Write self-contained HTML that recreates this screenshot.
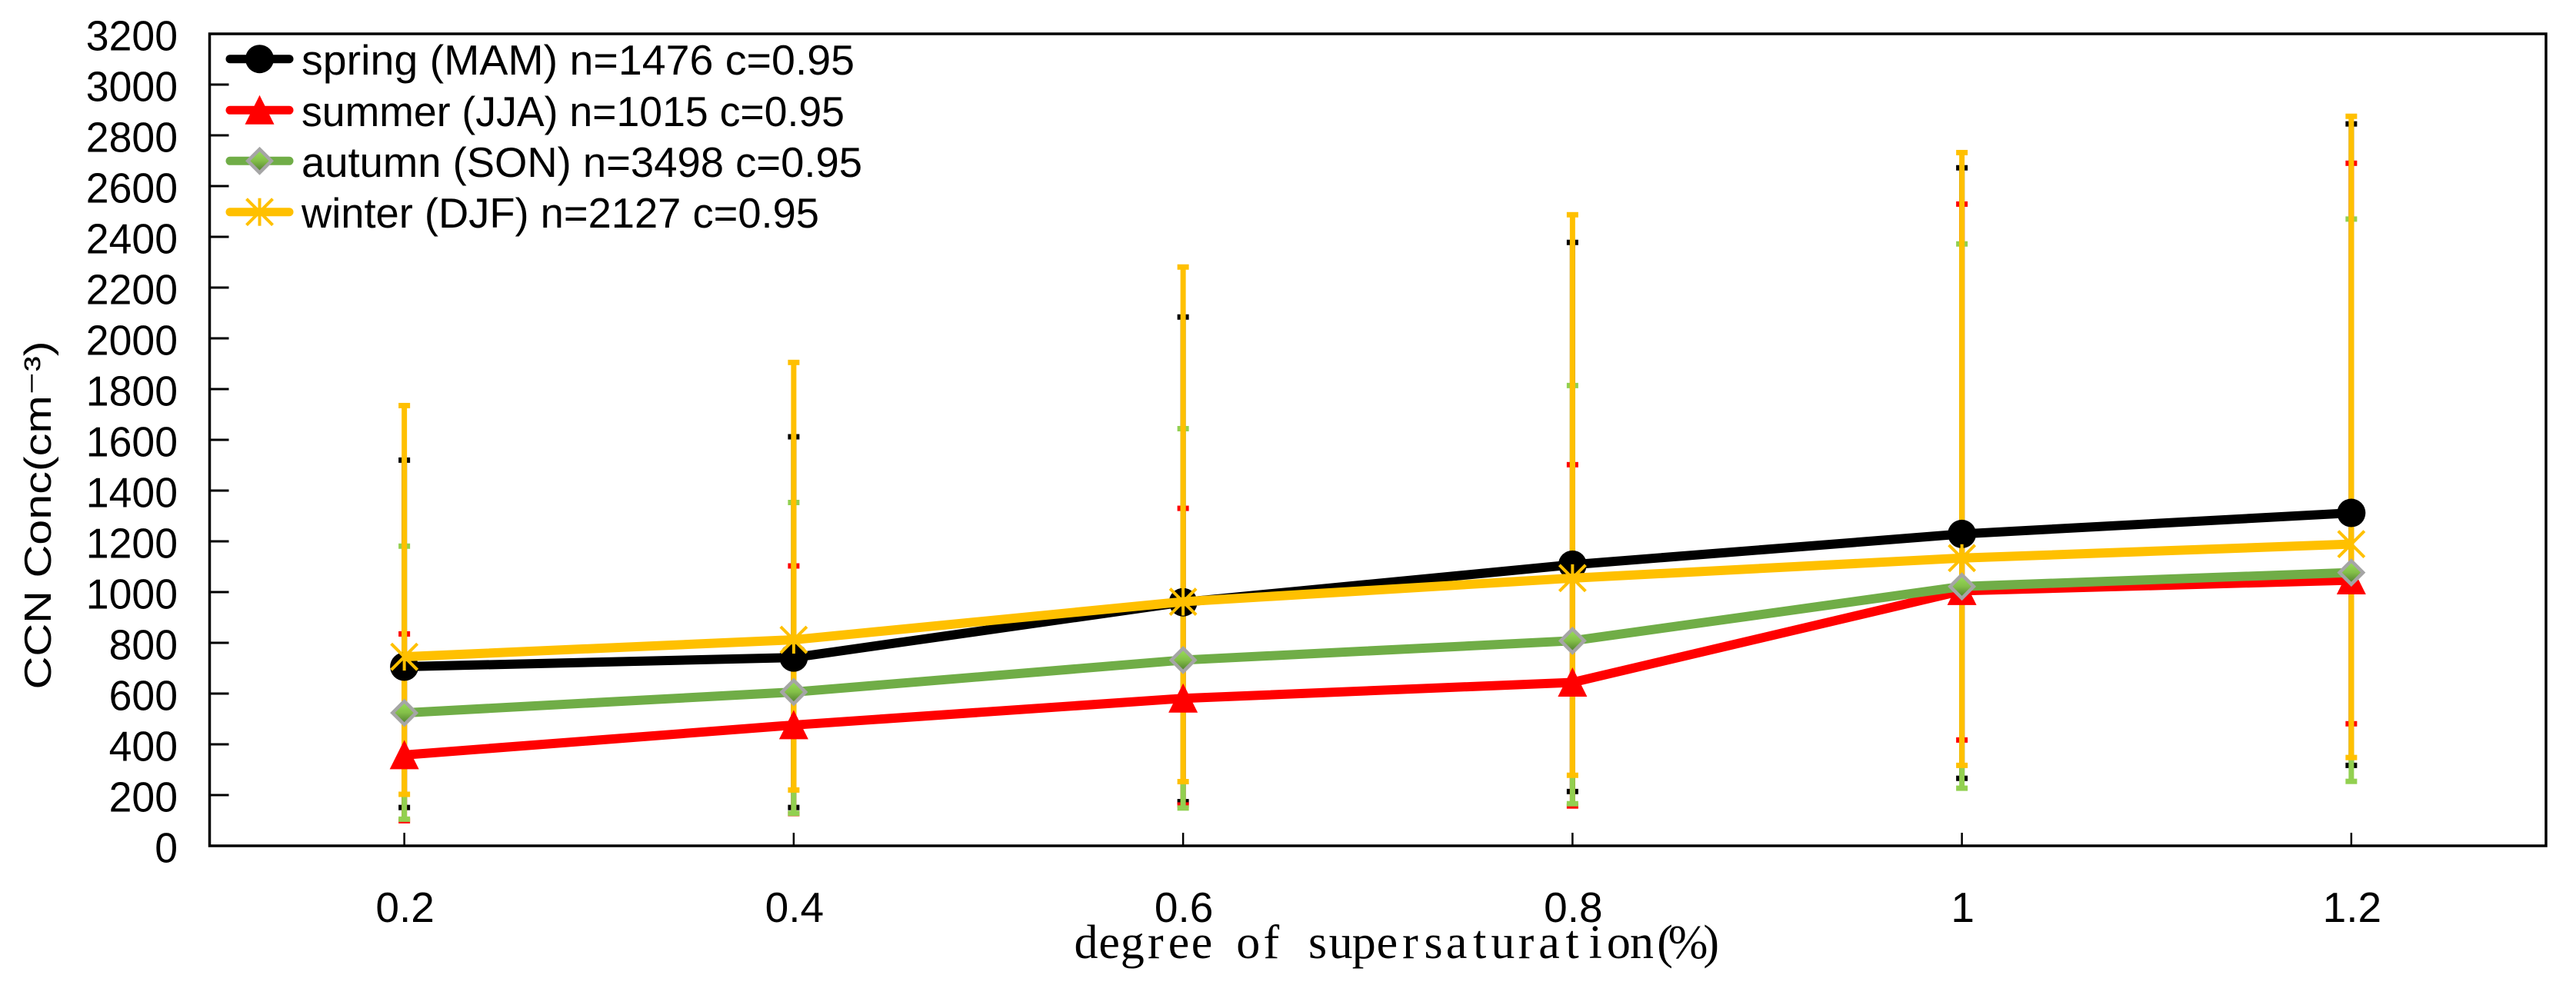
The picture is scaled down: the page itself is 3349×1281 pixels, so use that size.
<!DOCTYPE html>
<html lang="en">
<head>
<meta charset="utf-8">
<title>CCN concentration by degree of supersaturation</title>
<style>
html,body{margin:0;padding:0;background:#fff;width:3349px;height:1281px;overflow:hidden}
svg{display:block}
text{fill:#000;font-family:"Liberation Sans",sans-serif}
.tick-label{font-size:55px}
</style>
</head>
<body>
<svg id="chart" xmlns="http://www.w3.org/2000/svg" width="3349" height="1281" viewBox="0 0 3349 1281">
  <defs>
    <linearGradient id="diamondFill" x1="0" y1="0" x2="0" y2="1">
      <stop offset="0.1" stop-color="#96DB55"/>
      <stop offset="0.5" stop-color="#83BE49"/>
      <stop offset="0.95" stop-color="#4F7F2C"/>
    </linearGradient>
  </defs>
  <rect x="0" y="0" width="3349" height="1281" fill="#fff"/>
  <g id="marks"></g>
  <g id="axes"></g>
  <g id="legend">
    <text x="392" y="97" class="tick-label" textLength="719" lengthAdjust="spacingAndGlyphs">spring (MAM) n=1476 c=0.95</text>
    <text x="392" y="164" class="tick-label" textLength="706" lengthAdjust="spacingAndGlyphs">summer (JJA) n=1015 c=0.95</text>
    <text x="392" y="230" class="tick-label" textLength="729" lengthAdjust="spacingAndGlyphs">autumn (SON) n=3498 c=0.95</text>
    <text x="392" y="296" class="tick-label" textLength="673" lengthAdjust="spacingAndGlyphs">winter (DJF) n=2127 c=0.95</text>
  </g>
  <text id="xTitle" y="1246" style="font-family:'Liberation Serif',serif;font-size:62px">degree of supersaturation(%)</text>
  <text x="0" y="0" transform="translate(66,670) rotate(-90)" text-anchor="middle" textLength="453" lengthAdjust="spacingAndGlyphs" style="font-size:49px">CCN Conc(cm⁻³)</text>
</svg>
<script>
const xCategories = ['0.2', '0.4', '0.6', '0.8', '1', '1.2'];
const yTickValues = [0, 200, 400, 600, 800, 1000, 1200, 1400, 1600, 1800, 2000, 2200, 2400, 2600, 2800, 3000, 3200];

const springMean = [706, 742, 960, 1108, 1229, 1312];
const summerMean = [358, 476, 581, 644, 1005, 1047];
const autumnMean = [524, 606, 732, 808, 1022, 1077];
const winterMean = [745, 812, 962, 1055, 1134, 1189];

const springUpper = [1520, 1612, 2084, 2378, 2672, 2845];
const summerUpper = [835, 1103, 1330, 1502, 2529, 2690];
const autumnUpper = [1181, 1353, 1644, 1814, 2372, 2470];
const winterUpper = [1735, 1905, 2281, 2487, 2732, 2875];

const springLower = [151, 151, 174, 214, 266, 317];
const summerLower = [99, 127, 161, 157, 417, 481];
const autumnLower = [105, 128, 149, 166, 227, 254];
const winterLower = [203, 220, 253, 278, 317, 348];

const NS = 'http://www.w3.org/2000/svg';
const plotLeft = 272.5, plotRight = 3310, plotTop = 44, plotBottom = 1100;
const yMax = 3200;

function xScale(i) {
  const band = (plotRight - plotLeft) / xCategories.length;
  return plotLeft + band * (i + 0.5);
}
function yScale(v) {
  return plotBottom - (v / yMax) * (plotBottom - plotTop);
}
function make(tag, attrs, parent) {
  const el = document.createElementNS(NS, tag);
  for (const k in attrs) el.setAttribute(k, attrs[k]);
  parent.appendChild(el);
  return el;
}

const seriesList = [
  { key: 'spring', mean: springMean, upper: springUpper, lower: springLower, line: '#000000', err: '#000000' },
  { key: 'summer', mean: summerMean, upper: summerUpper, lower: summerLower, line: '#FF0000', err: '#FF0000' },
  { key: 'autumn', mean: autumnMean, upper: autumnUpper, lower: autumnLower, line: '#70AD47', err: '#92D050' },
  { key: 'winter', mean: winterMean, upper: winterUpper, lower: winterLower, line: '#FFC000', err: '#FFC000' }
];

function drawMarker(key, cx, cy, parent) {
  const g = make('g', {}, parent);
  
  
  if (key === 'spring') {
    make('circle', { cx: cx, cy: cy, r: 18.5, fill: '#000' }, g);
  } else if (key === 'summer') {
    make('polygon', { points: (cx - 19) + ',' + (cy + 18.5) + ' ' + (cx + 19) + ',' + (cy + 18.5) + ' ' + cx + ',' + (cy - 19.5), fill: '#FF0000' }, g);
  } else if (key === 'autumn') {
    make('polygon', { points: cx + ',' + (cy - 15.3) + ' ' + (cx + 15.3) + ',' + cy + ' ' + cx + ',' + (cy + 15.3) + ' ' + (cx - 15.3) + ',' + cy, fill: 'url(#diamondFill)', stroke: '#A5A5A5', 'stroke-width': 4.5 }, g);
  } else {
    const s = { stroke: '#FFC000', 'stroke-width': 4 };
    make('line', Object.assign({ x1: cx - 17, y1: cy - 17, x2: cx + 17, y2: cy + 17 }, s), g);
    make('line', Object.assign({ x1: cx - 17, y1: cy + 17, x2: cx + 17, y2: cy - 17 }, s), g);
    make('line', Object.assign({ x1: cx, y1: cy - 18, x2: cx, y2: cy + 18 }, s), g);
  }
}

const marks = document.getElementById('marks');

/* error bars first, in series order */
seriesList.forEach(function (s) {
  const g = make('g', {}, marks);
  
  
  xCategories.forEach(function (c, i) {
    const x = xScale(i), yU = yScale(s.upper[i]), yL = yScale(s.lower[i]);
    const stem = make('rect', { x: x - 3.5, y: yU, width: 7, height: yL - yU, fill: s.err }, g);
    
    
    const capU = make('rect', { x: x - 7.5, y: yU - 3.5, width: 15, height: 7, fill: s.err }, g);
    
    
    const capL = make('rect', { x: x - 7.5, y: yL - 3.5, width: 15, height: 7, fill: s.err }, g);
    
    
  });
});

/* mean lines and markers on top */
seriesList.forEach(function (s) {
  const g = make('g', {}, marks);
  
  
  const pts = s.mean.map(function (v, i) { return xScale(i) + ',' + yScale(v); }).join(' ');
  const line = make('polyline', { points: pts, fill: 'none', stroke: s.line, 'stroke-width': 12, 'stroke-linejoin': 'round' }, g);
  
  
  s.mean.forEach(function (v, i) { drawMarker(s.key, xScale(i), yScale(v), g); });
});

/* axes */
const axes = document.getElementById('axes');
const frame = make('rect', { x: plotLeft, y: plotTop, width: plotRight - plotLeft, height: plotBottom - plotTop, fill: 'none', stroke: '#000', 'stroke-width': 3.5 }, axes);



yTickValues.forEach(function (v) {
  const y = yScale(v);
  const t = make('line', { x1: plotLeft, y1: y, x2: plotLeft + 25, y2: y, stroke: '#000', 'stroke-width': 3 }, axes);
  
  
  const lab = make('text', { x: 231, y: y + 21.5, 'text-anchor': 'end', class: 'tick-label', textLength: String(v).length * 29.8, lengthAdjust: 'spacingAndGlyphs' }, axes);
  
  
  lab.textContent = String(v);
});

xCategories.forEach(function (c, i) {
  const x = xScale(i);
  const t = make('line', { x1: x, y1: plotBottom - 17, x2: x, y2: plotBottom, stroke: '#000', 'stroke-width': 2.5 }, axes);
  
  
  const lab = make('text', { x: x + 1, y: 1199, 'text-anchor': 'middle', class: 'tick-label' }, axes);
  
  
  lab.textContent = c;
});

/* legend swatches */
const legend = document.getElementById('legend');
const legendRowY = { spring: 76.7, summer: 143.3, autumn: 209.3, winter: 275.7 };
seriesList.forEach(function (s) {
  const y = legendRowY[s.key];
  const g = make('g', {}, legend);
  
  
  make('line', { x1: 299, y1: y, x2: 376, y2: y, stroke: s.line, 'stroke-width': 11, 'stroke-linecap': 'round' }, g);
  drawMarker(s.key, 337.5, y, g);
});

/* x-axis title: each glyph centred in a fixed cell, like the half-width serif in the source */
(function () {
  const title = document.getElementById('xTitle');
  const ctx = document.createElement('canvas').getContext('2d');
  ctx.font = '62px "Liberation Serif", serif';
  const chars = Array.from(title.textContent);
  const xs = chars.map(function (ch, i) {
    return (1397 + i * 30.1 + (30.1 - ctx.measureText(ch).width) / 2).toFixed(1);
  });
  title.setAttribute('x', xs.join(' '));
})();
</script>
</body>
</html>
